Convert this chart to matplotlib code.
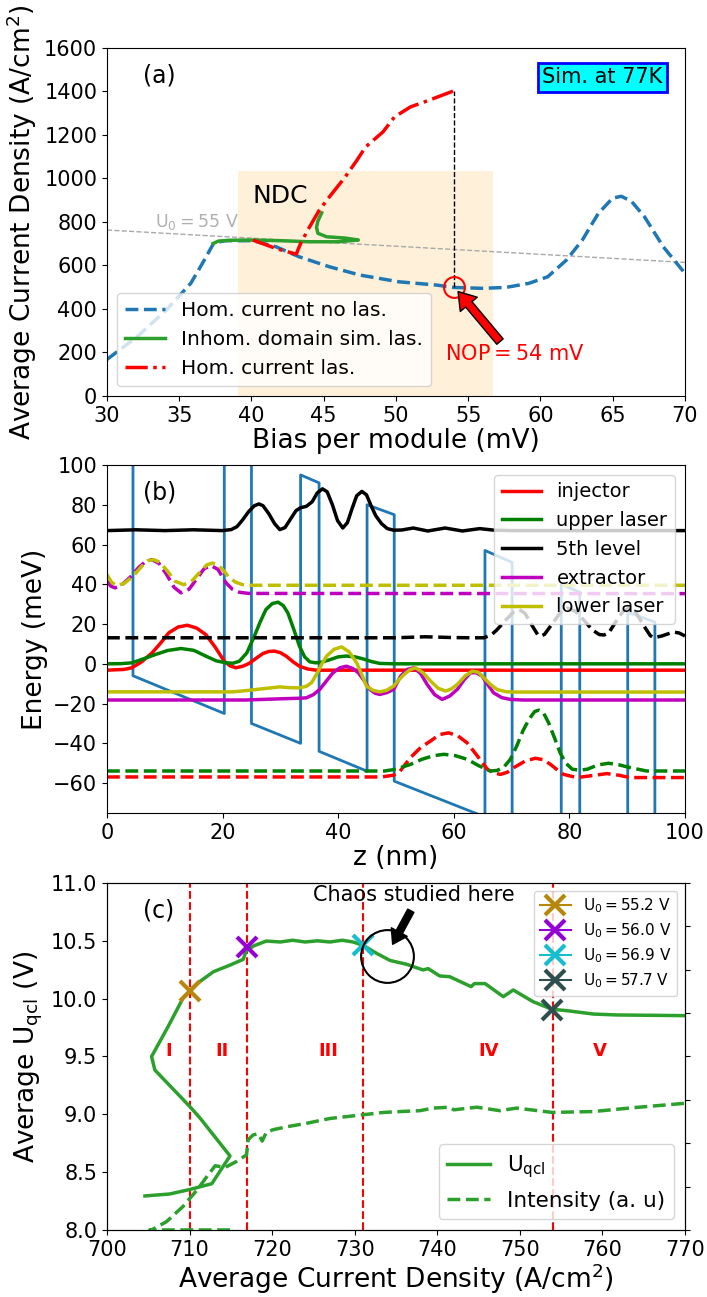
import matplotlib
matplotlib.use('Agg')
import matplotlib.pyplot as plt

# ---------------- panel (a): current density vs bias ----------------
bias_hom = [30.0, 32.1, 34.1, 35.8, 36.6, 37.4, 38.2, 40.1, 41.7, 43.3, 45.4, 47.5, 50.2, 52.8,
            54.0, 56.0, 57.6, 59.2, 60.5, 61.8, 62.9, 64.0, 65.0, 65.6, 66.3, 67.2, 68.5, 70.0]
j_hom = [168, 273, 395, 518, 609, 704, 714, 714, 686, 640, 594, 556, 525, 510,
         499, 495, 499, 518, 548, 625, 717, 839, 910, 918, 895, 824, 686, 564]

bias_inhom = [37.35, 37.7, 38.5, 40.1, 42.0, 44.0, 46.0, 47.4, 46.5, 45.2, 44.6, 44.5, 44.6, 44.86]
j_inhom = [701, 712, 716, 717, 714, 709, 709, 717, 726, 732, 748, 775, 805, 842]

bias_las = [40.1, 41.7, 43.1, 43.4, 43.9, 44.7, 45.4, 46.5, 47.3, 47.9, 49.1, 49.9, 51.0, 52.3, 54.0]
j_las = [717, 678, 652, 701, 763, 855, 916, 1008, 1084, 1145, 1214, 1283, 1329, 1360, 1403]

u0_line_x = [30, 70]
u0_line_y = [763, 614]

ndc_x = [39.1, 56.7]
ndc_top = 1034

nop_bias = 54.0
nop_j = 500

# ---------------- panel (b): band structure ----------------
z_band = [0, 4.5, 4.5, 20.3, 20.3, 25.0, 25.0, 33.5, 33.5, 36.7, 36.7, 45.0, 45.0, 49.7, 49.7,
          65.4, 65.4, 70.1, 70.1, 78.6, 78.6, 81.8, 81.8, 90.1, 90.1, 94.8, 94.8, 100]
e_band = [132, 127, -6, -25, 109, 104, -30, -40, 95, 91, -44, -54, 80, 75, -59,
          -77, 57, 51, -82, -92, 40, 36, -96, -106, 26, 21, -111, -117]

z_inj = [0, 3, 4.3, 6, 7.8, 9.3, 10.7, 12.3, 13.9, 15.5, 17.1, 18.7, 20.3, 21.3, 22.3, 23.5, 24.6,
         25.8, 27, 28, 29, 30, 31, 32.2, 33.3, 34.7, 36.2, 100]
e_inj = [-3.2, -2.8, -2, 1, 5.5, 10.5, 15.6, 18.5, 19.4, 18, 14.7, 8.5, 1.3, -1, -2, -1.2, 0.2,
         2.8, 5.2, 6.2, 6.4, 5.6, 3.9, 1, -1.2, -2.6, -3.2, -3.2]

z_ul = [0, 2.5, 4.3, 6.3, 8.4, 10.5, 12.8, 15, 17.1, 18.9, 20.6, 21.8, 22.9, 24.2, 25.5, 26.5, 27.5,
        28.6, 29.6, 30.5, 31.3, 32.3, 33.3, 34.2, 35.1, 36.1, 37.1, 38.5, 40, 41.4, 42.9, 44.3,
        45.8, 47.2, 50, 100]
e_ul = [0, 0.1, 0.5, 2.5, 4.7, 6.7, 7.7, 6.8, 3.9, 1.5, 0.5, 0.3, 1.3, 5.5, 13.9, 21, 27.3,
        30.3, 31, 29.3, 25.6, 17.5, 8.9, 3.5, 1, 0.5, 0.8, 2, 3.5, 3.9, 3.5, 2.5,
        1.1, 0.2, 0, 0]

z_5th = [0, 5, 10, 15, 20, 21.5, 22.5, 23.5, 24.5, 25.5, 26.3, 27, 28, 29, 29.9, 30.8, 31.8, 32.7,
         33.5, 34.5, 35.5, 36.4, 37.3, 38.1, 39, 39.9, 40.8, 41.6, 42.4, 43.2, 44.1, 44.9, 45.7,
         46.5, 47.5, 48.5, 49.6, 51, 53, 55.5, 58.5, 61.5, 64.5, 67, 70, 100]
e_5th = [67, 67.4, 67, 67.4, 67, 67.5, 69, 72.5, 76.5, 79.5, 80.4, 79.5, 75.5, 70.5, 67.5, 68.5, 73, 77,
         78.5, 79.2, 81.5, 86, 88, 86.5, 80, 72, 68.3, 71, 78, 84.5, 86.7, 85, 79.5,
         74.5, 70.5, 68, 67.2, 67.3, 68.3, 66.8, 68.3, 66.8, 68, 67.2, 67, 67]

z_ext = [0, 24, 29.9, 33.5, 34.5, 35.7, 36.8, 38, 39.1, 40.3, 41.4, 42.5, 43.5, 44.5, 45.5, 46.4,
         47.2, 48.4, 49.6, 50.8, 52, 53.1, 54.3, 55.4, 56.7, 58, 59.3, 60.6, 61.8, 62.9, 63.9,
         64.9, 65.9, 66.9, 68.3, 69.8, 72, 100]
e_ext = [-18.2, -18.2, -17.6, -17.3, -17.1, -15.5, -12.9, -8.5, -4.5, -2, -1.2, -2.3, -4.5, -8.5, -12.9, -14.8,
         -15.4, -14.5, -12.9, -6.2, -2.8, -2, -5, -10.4, -15.5, -17.9, -16.2, -12.9, -8, -4.5, -4.5,
         -6.2, -10.5, -14.6, -17, -17.9, -18.2, -18.2]

z_ll = [0, 21.7, 24, 25.8, 28, 29.9, 31.6, 33.3, 34.5, 35.4, 36.4, 37.2, 38, 39.3, 40.6, 41.9, 43.2,
        44.1, 44.9, 46, 47.2, 48.4, 49.6, 50.5, 51.4, 52.4, 53.4, 54.7, 56, 57.3, 58.6, 59.6,
        60.6, 62, 63.2, 64.2, 65.2, 66.4, 67.5, 69, 70.4, 100]
e_ll = [-14.1, -14.1, -13.5, -12.9, -12.2, -11.6, -12, -12.1, -11.3, -9.5, -4.5, 0, 3.9, 7.3, 8.5, 6, 0.5,
        -5.5, -11.2, -13.3, -14.1, -13.3, -11.2, -8, -5.4, -3, -2, -4.5, -8.7, -12.3, -13.7, -12.6,
        -10.4, -6, -3.7, -4.2, -7, -10.5, -12.9, -14, -14.2, -14.2]

# copies of the states in the neighbouring period (dashed)
z_ll_up = [0, 0.8, 1.7, 3, 4.5, 6, 7, 8.1, 9.2, 10.5, 11.8, 13.3, 14.8, 16.2, 17.3, 18.3, 19.3,
           20.3, 21.2, 22.3, 23.5, 25, 100]
e_ll_up = [44.9, 41, 39.3, 40.5, 44, 49, 51.8, 52.4, 51, 46.5, 41.5, 39.8, 42, 46.5, 49.8, 50.7, 49.5,
           46.5, 43.2, 41, 39.8, 39.5, 39.5]

z_ext_up = [0, 0.7, 1.4, 2.5, 4, 5.5, 6.7, 7.8, 9, 10.3, 11.6, 12.8, 14.2, 15.6, 16.8, 18, 19.2,
            20.6, 21.7, 22.9, 24.5, 100]
e_ext_up = [41.5, 39, 38.2, 39.5, 43.5, 48.5, 51.5, 52.4, 50.5, 45, 38.5, 35.7, 37.5, 43, 47.8, 49.4, 47.5,
            40.7, 37.5, 36, 35.4, 35.3]

z_5th_low = [0, 50, 55, 60, 63, 65.2, 66.5, 67.5, 69, 70.3, 71.3, 72.3, 73.5, 74.5, 75, 75.7, 77,
             78.5, 79.7, 81, 82.5, 84, 85.2, 86, 86.8, 88, 89.3, 90.4, 91.5, 92.8, 94, 94.6, 96,
             98, 99, 100]
e_5th_low = [13.1, 13.1, 13.6, 13.2, 13.1, 13.1, 14.5, 17.2, 22, 26, 27.3, 25.5, 19.5, 14.8, 13.9, 14.8, 20,
             26, 28, 26.5, 22, 17, 14.7, 14.5, 15.5, 21, 26.5, 28, 26, 19.5, 14.2, 13.1, 14,
             16, 15.5, 14]

z_ul_low = [0, 48, 49.6, 51, 52.5, 54.5, 56.5, 58.3, 60.3, 62.3, 64.3, 66.3, 67.5, 68.6, 69.8, 70.9,
            72, 73, 74, 74.7, 75.5, 76.4, 77.4, 78.4, 79.4, 80.5, 81.8, 83.1, 85, 86.8, 88.6,
            90.5, 93.4, 100]
e_ul_low = [-53.9, -53.9, -53.2, -52, -50.6, -48, -46.2, -45.5, -46.2, -48, -51.2, -53.9, -53.6, -52.2, -48, -41.3,
            -33.5, -28, -24, -23.3, -24.5, -29.6, -37, -44.7, -50, -53, -53.5, -53, -50.8, -50, -50.8,
            -52.2, -53.9, -53.9]

z_inj_low = [0, 47.5, 49.6, 50.7, 52.5, 54.3, 56, 57.5, 59.1, 60.7, 62.3, 64, 65.8, 67, 68.1, 69.3,
             70.4, 72.3, 74.1, 75.5, 76.7, 78, 79, 81.3, 84, 86.5, 88.5, 90.5, 100]
e_inj_low = [-56.9, -56.9, -56, -54, -47.2, -42, -38.8, -35.6, -34.7, -36.2, -39.7, -46, -53, -55, -55.6, -54.5,
             -52.2, -49, -47.5, -48.2, -50.5, -53.5, -55.6, -57.2, -56.2, -55.2, -56, -57.2, -57.2]

# ---------------- panel (c): U_qcl and intensity vs current ----------------
j_qcl = [704.6, 707.6, 710.05, 712.7, 714.9, 711.3, 710.05, 705.8, 705.4, 707.4, 709.2, 710.05, 710.9,
         712.9, 714.9, 716.5, 716.9, 717.9, 719.3, 721.0, 722.5, 724.0, 725.5, 727.0, 728.5, 729.8,
         731.05, 732.7, 734.3, 735.5, 736.3, 737.1, 738.3, 738.9, 740.3, 741.5, 744.1, 744.5, 745.8,
         748.0, 749.2, 751.6, 753.9, 755.7, 758.9, 761.7, 770.0]
u_qcl = [8.294, 8.311, 8.35, 8.40, 8.64, 8.965, 9.066, 9.383, 9.499, 9.758, 10.003, 10.069, 10.13,
         10.233, 10.29, 10.34, 10.42, 10.46, 10.498, 10.49, 10.505, 10.49, 10.50, 10.49, 10.505, 10.49,
         10.46, 10.39, 10.33, 10.31, 10.297, 10.277, 10.248, 10.26, 10.196, 10.19, 10.104, 10.13, 10.13,
         10.017, 10.075, 9.974, 9.908, 9.896, 9.867, 9.859, 9.853]

j_int = [714.9, 705.2, 705.4, 707.2, 709.2, 710.9, 712.1, 713.1, 714.3, 715.7, 716.9, 717.1, 717.7,
         718.3, 718.8, 719.3, 720.1, 721.8, 724.2, 727.0, 729.8, 733.5, 735.5, 737.9, 739.5, 741.5,
         742.0, 744.8, 747.6, 749.6, 753.9, 758.9, 763.8, 770.0]
intensity = [0, 0, 0, 0.19, 0.54, 0.92, 1.23, 1.48, 1.44, 1.58, 1.73, 2.08, 2.19,
             2.22, 2.05, 2.25, 2.31, 2.38, 2.46, 2.57, 2.63, 2.71, 2.73, 2.75, 2.81, 2.83,
             2.77, 2.83, 2.75, 2.81, 2.71, 2.73, 2.82, 2.92]

region_edges = [710, 717, 731, 754]
region_names = ['I', 'II', 'III', 'IV', 'V']
region_x = [707.5, 713.9, 726.8, 746.2, 759.7]
region_y = 9.55

u0_labels = ['U$_0=55.2$ V', 'U$_0=56.0$ V', 'U$_0=56.9$ V', 'U$_0=57.7$ V']
u0_colors = ['darkgoldenrod', 'darkviolet', 'tab:cyan', 'darkslategray']
u0_j = [710.05, 716.9, 731.0, 753.9]
u0_u = [10.07, 10.45, 10.465, 9.90]

chaos_j = 733.95
chaos_u = 10.368

TICK = 15
LABEL = 19

fig = plt.figure(figsize=(7.07, 12.97), dpi=100)
ax_a = fig.add_axes([0.1513, 0.6947, 0.8175, 0.2683])
ax_b = fig.add_axes([0.1513, 0.3732, 0.8175, 0.2683])
ax_c = fig.add_axes([0.1513, 0.0517, 0.8175, 0.2675])

# ---- (a)
ax = ax_a
ax.fill_between(ndc_x, 0, ndc_top, color='orange', alpha=0.15, lw=0)
ax.plot(u0_line_x, u0_line_y, '--', color='darkgrey', lw=1)
ax.plot(bias_hom, j_hom, '--', color='tab:blue', lw=2.5, label='Hom. current no las.')
ax.plot(bias_inhom, j_inhom, '-', color='tab:green', lw=2.5, label='Inhom. domain sim. las.')
ax.plot(bias_las, j_las, '-.', color='red', lw=2.5, label='Hom. current las.')
ax.plot([nop_bias, nop_bias], [nop_j, j_las[-1]], '--', color='black', lw=1)
ax.plot(nop_bias, nop_j, 'o', ms=15, mfc='none', mec='red', mew=1.5)
ax.annotate('', xy=(54.3, 480), xytext=(57.2, 250),
            arrowprops=dict(facecolor='red', edgecolor='black', width=6, headwidth=16, headlength=12, lw=1))
ax.text(53.4, 193, 'NOP$=54$ mV', color='red', fontsize=15, va='center')
ax.text(40.1, 919, 'NDC', fontsize=18, va='center')
ax.text(33.3, 801, 'U$_0=55$ V', color='#b0b0b0', fontsize=12.5, va='center')
ax.text(0.062, 0.92, '(a)', transform=ax.transAxes, fontsize=17, va='center')
ax.text(64.3, 1465, 'Sim. at 77K', fontsize=15, ha='center', va='center',
        bbox=dict(boxstyle='square,pad=0.2', facecolor='cyan', edgecolor='blue', lw=2))
ax.set_xlim(30, 70)
ax.set_ylim(0, 1600)
ax.set_xticks(range(30, 71, 5))
ax.set_yticks(range(0, 1601, 200))
ax.set_xlabel('Bias per module (mV)', fontsize=LABEL, labelpad=2)
ax.set_ylabel('Average Current Density (A/cm$^2$)', fontsize=LABEL)
ax.tick_params(labelsize=TICK)
ax.legend(loc='lower left', fontsize=14.5)

# ---- (b)
ax = ax_b
ax.plot(z_band, e_band, color='tab:blue', lw=2)
ax.plot(z_inj, e_inj, 'r-', lw=2.5, label='injector')
ax.plot(z_ul, e_ul, 'g-', lw=2.5, label='upper laser')
ax.plot(z_5th, e_5th, 'k-', lw=2.5, label='5th level')
ax.plot(z_ext, e_ext, 'm-', lw=2.5, label='extractor')
ax.plot(z_ll, e_ll, 'y-', lw=2.5, label='lower laser')
ax.plot(z_inj_low, e_inj_low, 'r--', lw=2.5)
ax.plot(z_ul_low, e_ul_low, 'g--', lw=2.5)
ax.plot(z_5th_low, e_5th_low, 'k--', lw=2.5)
ax.plot(z_ext_up, e_ext_up, 'm--', lw=2.5)
ax.plot(z_ll_up, e_ll_up, 'y--', lw=2.5)
ax.text(0.062, 0.92, '(b)', transform=ax.transAxes, fontsize=17, va='center')
ax.set_xlim(0, 100)
ax.set_ylim(-75, 100)
ax.set_yticks(range(-60, 101, 20))
ax.set_xlabel('z (nm)', fontsize=LABEL, labelpad=2)
ax.set_ylabel('Energy (meV)', fontsize=LABEL)
ax.tick_params(labelsize=TICK)
ax.legend(loc='upper right', fontsize=14)

# ---- (c)
ax = ax_c
ax2 = ax.twinx()
for x in region_edges:
    ax.axvline(x, color='red', ls='--', lw=1.5)
for name, x in zip(region_names, region_x):
    ax.text(x, region_y, name, color='red', fontsize=13, fontweight='bold', ha='center', va='center')
qcl_line, = ax.plot(j_qcl, u_qcl, '-', color='tab:green', lw=2.5, label='U$_{\\rm qcl}$')
int_line, = ax2.plot(j_int, intensity, '--', color='tab:green', lw=2.5, label='Intensity (a. u)')
marker_handles = []
for lab, c, xj, yu in zip(u0_labels, u0_colors, u0_j, u0_u):
    h, = ax.plot([xj], [yu], marker='x', color=c, ms=14, mew=3, label=lab)
    marker_handles.append(h)
ax.plot(chaos_j, chaos_u, 'o', ms=38, mfc='none', mec='black', mew=1.5)
ax.annotate('', xy=(734.6, 10.47), xytext=(736.8, 10.76),
            arrowprops=dict(facecolor='black', width=5, headwidth=13, headlength=10))
ax.text(725.0, 10.895, 'Chaos studied here', fontsize=15, va='center')
ax.text(0.062, 0.92, '(c)', transform=ax.transAxes, fontsize=17, va='center')
ax.set_xlim(700, 770)
ax.set_ylim(8, 11)
ax2.set_ylim(0, 8)
ax2.tick_params(labelright=False)
ax.set_xlabel('Average Current Density (A/cm$^2$)', fontsize=LABEL, labelpad=1)
ax.set_ylabel('Average U$_{\\rm qcl}$ (V)', fontsize=LABEL)
ax.tick_params(labelsize=TICK)
leg1 = ax2.legend(handles=marker_handles, loc='upper right', fontsize=11, labelspacing=0.4)
ax2.add_artist(leg1)
ax2.legend(handles=[qcl_line, int_line], loc='lower right', fontsize=15.5)

fig.savefig('out.png', dpi=100)
